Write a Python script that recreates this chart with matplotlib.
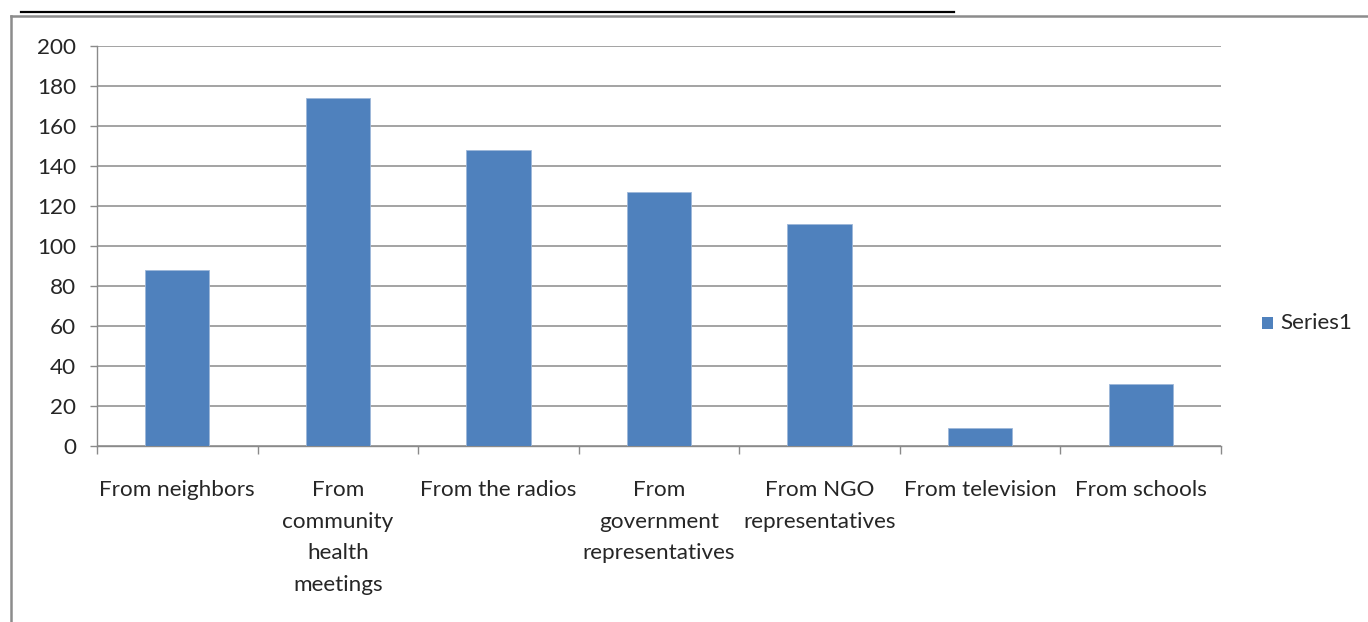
import matplotlib
matplotlib.use("Agg")
import matplotlib.pyplot as plt
from matplotlib.lines import Line2D
from matplotlib.patches import Rectangle
import numpy as np

categories = [
    "From neighbors",
    "From\ncommunity\nhealth\nmeetings",
    "From the radios",
    "From\ngovernment\nrepresentatives",
    "From NGO\nrepresentatives",
    "From television",
    "From schools",
]
values = [88, 174, 148, 127, 111, 9, 31]
series_name = "Series1"
y_ticks = [0, 20, 40, 60, 80, 100, 120, 140, 160, 180, 200]

BAR = "#4F81BD"
GRID = "#9c9c9c"
AXIS = "#8a8a8a"
TEXT = "#262626"
FONT = ["Lato", "DejaVu Sans"]
FS = 16.2

plt.rcParams["font.family"] = FONT

W, H = 1368, 622
fig = plt.figure(figsize=(W / 100, H / 100), dpi=100)
fig.patch.set_facecolor("white")

ax = fig.add_axes([97 / W, 1 - 446 / H, (1221 - 97) / W, (446 - 46) / H])
x = np.arange(len(categories))
ax.bar(x, values, width=0.4, color=BAR, edgecolor="#9db7d9", linewidth=0.6, zorder=3)

ax.set_xlim(-0.5, len(categories) - 0.5)
ax.set_ylim(0, 200)
ax.set_yticks(y_ticks)
ax.set_yticklabels([str(v) for v in y_ticks])
ax.yaxis.grid(True, color=GRID, linewidth=1.3, zorder=0)
ax.set_axisbelow(True)

# category labels centred on bars, ticks on category boundaries
ax.set_xticks(x)
ax.set_xticklabels(categories, linespacing=1.72)
ax.tick_params(axis="x", which="major", length=0, pad=24.5, labelsize=FS, labelcolor=TEXT)
ax.set_xticks(np.arange(len(categories) + 1) - 0.5, minor=True)
ax.tick_params(axis="x", which="minor", length=6, width=1, color=AXIS, direction="out")
for lbl in ax.get_xticklabels():
    lbl.set_verticalalignment("top")
    lbl.set_horizontalalignment("center")

ax.tick_params(axis="y", length=5, width=1, color=AXIS, direction="out", pad=10,
               labelsize=FS, labelcolor=TEXT)

for side in ["top", "right"]:
    ax.spines[side].set_visible(False)
for side in ["left", "bottom"]:
    ax.spines[side].set_color(AXIS)
    ax.spines[side].set_linewidth(1.0)

# legend: colour key and series name
fig.add_artist(Rectangle((1262 / W, 1 - 329 / H), 11 / W, 12 / H,
                         transform=fig.transFigure, facecolor=BAR, edgecolor="none"))
fig.text(1280 / W, 1 - 323 / H, series_name, ha="left", va="center",
         fontsize=FS, color=TEXT, family=FONT)

# outer chart frame and the rule above it
frame_col = "#8c8c8c"
fig.add_artist(Line2D([11 / W, 11 / W], [1 - 16 / H, 0], transform=fig.transFigure,
                      color=frame_col, linewidth=1.8))
fig.add_artist(Line2D([11 / W, 1], [1 - 16 / H, 1 - 16 / H], transform=fig.transFigure,
                      color=frame_col, linewidth=1.8))
fig.add_artist(Line2D([21 / W, 954 / W], [1 - 12 / H, 1 - 12 / H], transform=fig.transFigure,
                      color="black", linewidth=1.6))

fig.savefig("out.png", dpi=100, facecolor="white")
